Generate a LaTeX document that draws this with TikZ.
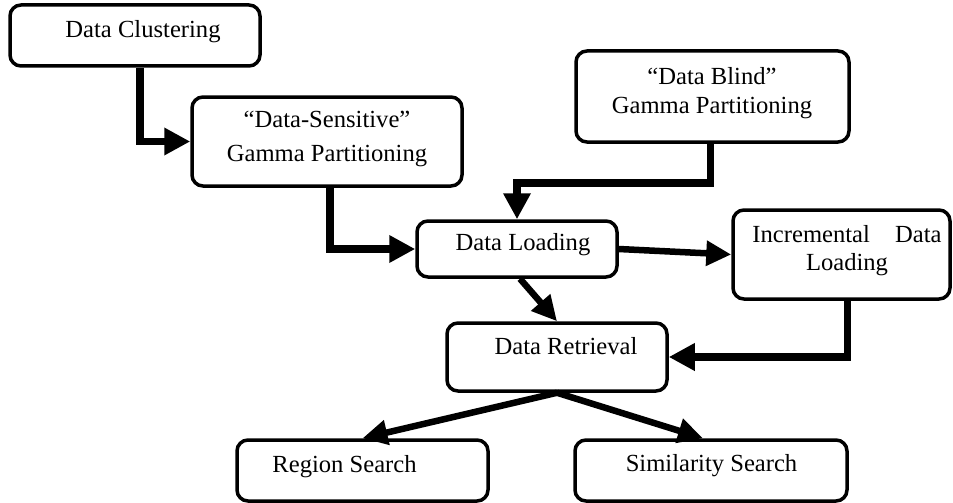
\documentclass[tikz,border=0pt]{standalone}
\usepackage{fontspec}
\setmainfont{Liberation Serif}
\usetikzlibrary{arrows.meta,calc}
\begin{document}
\begin{tikzpicture}[x=1pt,y=-1pt,
  box/.style={draw=black,line width=3.5pt,rounded corners=11pt,inner sep=0pt,fill=white},
  lbl/.style={inner sep=0pt,font=\fontsize{24.6}{29}\selectfont,align=center},
  elb/.style={line width=7.5pt,-{Triangle[length=26pt,width=26pt]}},
  diag/.style={line width=6.5pt,-{Triangle[length=25pt,width=24pt]}}]
\useasboundingbox (0,0) rectangle (953,503);
% boxes
\node[box,minimum width=250pt,minimum height=61pt] (clus) at (135,35.5) {};
\node[box,minimum width=270pt,minimum height=89pt] (sens) at (327,141.5) {};
\node[box,minimum width=273pt,minimum height=91pt] (blind) at (712.5,96.5) {};
\node[box,minimum width=200pt,minimum height=56pt] (load) at (517,249) {};
\node[box,minimum width=217pt,minimum height=89pt] (incr) at (841.5,254.5) {};
\node[box,minimum width=220pt,minimum height=68pt] (retr) at (557,357) {};
\node[box,minimum width=251pt,minimum height=61pt] (region) at (362.5,470.5) {};
\node[box,minimum width=272pt,minimum height=61pt] (simil) at (711,470.5) {};
% texts
\node[lbl,anchor=base] (clus-t) at (143,38) {Data Clustering};
\node[lbl,font=\fontsize{24.6}{34}\selectfont] (sens-t) at (327,139.4) {“Data-Sensitive”\\Gamma Partitioning};
\node[lbl] (blind-t) at (712,92.9) {“Data Blind”\\Gamma Partitioning};
\node[lbl,anchor=base] (load-t) at (523,250) {Data Loading};
\node[lbl,font=\fontsize{24.6}{28}\selectfont] (incr-t) at (847,250.4) {Incremental\hspace{19pt} Data\\Loading};
\node[lbl,anchor=base] (retr-t) at (566,354) {Data Retrieval};
\node[lbl,anchor=base] (region-t) at (344.5,472) {Region Search};
\node[lbl,anchor=base] (simil-t) at (711.5,471) {Similarity Search};
% connectors
\draw[elb] ($(clus.south west)!0.52!(clus.south east)$) |- (sens.west);
\draw[elb] ([xshift=3pt]sens.south) |- (load.west);
\draw[elb] ([xshift=-2pt]blind.south) -- ++(0,39) -| (load.north);
\draw[diag] (load.east) -- (incr.west);
\draw[diag] ([xshift=3pt]load.south) -- (retr.north);
\draw[elb] ([xshift=6pt]incr.south) |- (retr.east);
\draw[diag] (retr.south) -- (region.north);
\draw[diag] (retr.south) -- ([xshift=-8pt]simil.north);
\end{tikzpicture}
\end{document}
